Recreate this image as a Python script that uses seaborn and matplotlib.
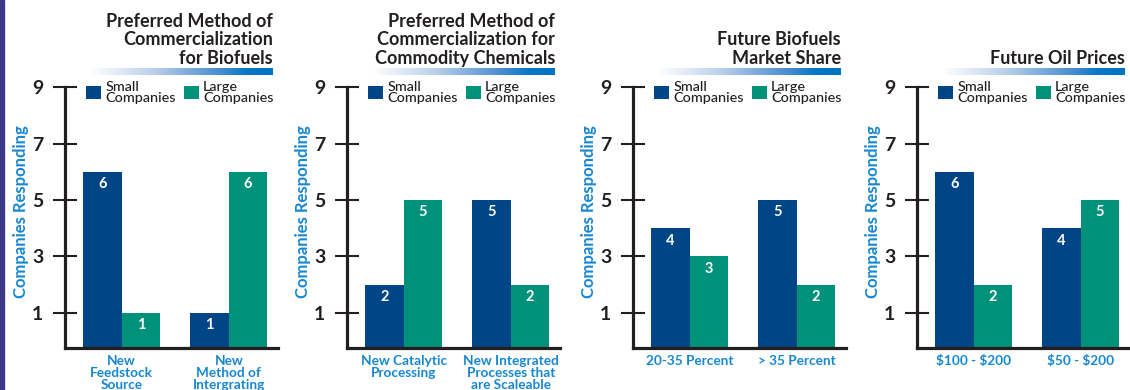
import numpy as np
import pandas as pd
import matplotlib
matplotlib.use("Agg")
import matplotlib.pyplot as plt
from matplotlib.colors import LinearSegmentedColormap
from matplotlib.patches import Rectangle
import seaborn as sns

# ---------------- data ----------------
titles = [
    "Preferred Method of\nCommercialization\nfor Biofuels",
    "Preferred Method of\nCommercialization for\nCommodity Chemicals",
    "Future Biofuels\nMarket Share",
    "Future Oil Prices",
]
categories = [
    ["New\nFeedstock\nSource", "New\nMethod of\nIntergrating"],
    ["New Catalytic\nProcessing", "New Integrated\nProcesses that\nare Scaleable"],
    ["20-35 Percent", "> 35 Percent"],
    ["$100 - $200", "$50 - $200"],
]
small_companies = [[6, 1], [2, 5], [4, 5], [6, 4]]
large_companies = [[1, 6], [5, 2], [3, 2], [2, 5]]
series_names = ["Small\nCompanies", "Large\nCompanies"]
y_ticks = [1, 3, 5, 7, 9]
y_label = "Companies Responding"

# ---------------- style ----------------
sns.set_style("white")
plt.rcParams["font.family"] = ["Lato", "DejaVu Sans"]
plt.rcParams["font.weight"] = "bold"
plt.rcParams["text.parse_math"] = False

BLUE = "#004586"
TEAL = "#00917a"
TEXT_BLUE = "#1787d0"
DARK = "#231f20"

W, H = 1130, 390
fig = plt.figure(figsize=(W / 100, H / 100), dpi=100)
fig.patch.set_facecolor("white")

axis_left_px = [65, 347, 633, 917]
axes_w_px = 213
base_px = 348          # y of x-axis (from top)
top_px = 87.3          # y of tick 9 (from top)
YMIN, YMAX = -0.25, 9

grad_cmap = LinearSegmentedColormap.from_list(
    "g", [(0, "#ffffff"), (0.35, "#b9cfea"), (0.7, "#4d8fd0"), (0.85, "#0a78c6"), (1, "#0073c3")])

for i in range(4):
    left = axis_left_px[i]
    ax = fig.add_axes([left / W, (H - base_px) / H, axes_w_px / W, (base_px - top_px) / H])
    df = pd.DataFrame({
        "category": categories[i] * 2,
        "company": [series_names[0]] * 2 + [series_names[1]] * 2,
        "count": small_companies[i] + large_companies[i],
    })
    sns.barplot(data=df, x="category", y="count", hue="company",
                palette=[BLUE, TEAL], width=0.72, saturation=1,
                errorbar=None, ax=ax, legend=True, linewidth=0)
    ax.set_ylim(YMIN, YMAX)
    ax.set_xlim(-0.53, 1.46)
    # bars rest on the axis floor
    for cont in ax.containers:
        for bar in cont:
            top = bar.get_y() + bar.get_height()
            bar.set_y(YMIN)
            bar.set_height(top - YMIN)
        ax.bar_label(cont, labels=[f"{v:g}" for v in cont.datavalues],
                     padding=-14, color="white", fontsize=10.5, fontweight="bold")

    # axes styling
    for s in ["top", "right"]:
        ax.spines[s].set_visible(False)
    for s in ["left", "bottom"]:
        ax.spines[s].set_linewidth(2.3)
        ax.spines[s].set_color(DARK)
    ax.set_yticks(y_ticks)
    ax.set_yticklabels([str(t) for t in y_ticks])
    ax.tick_params(axis="y", direction="inout", length=17, width=1.5, pad=7,
                   labelsize=14, colors=DARK, left=True)
    ax.set_xticks(range(len(categories[i])))
    ax.set_xticklabels(categories[i], fontsize=9.8, color=TEXT_BLUE,
                       fontweight="bold", linespacing=1.02, va="top")
    ax.tick_params(axis="x", length=0, pad=5)
    ax.set_xlabel("")
    ax.set_ylabel(y_label, color=TEXT_BLUE, fontsize=12, fontweight="bold")
    ax.yaxis.set_label_coords(-0.17, 0.525)

    # legend
    handles, labels = ax.get_legend_handles_labels()
    leg = ax.legend(handles, labels, loc="upper left", bbox_to_anchor=(0.1, 1.025),
                    ncol=2, frameon=False, prop={"size": 10.4, "weight": "medium"},
                    handlelength=1.05, handleheight=1.05, handletextpad=0.3,
                    columnspacing=0.5, borderpad=0, borderaxespad=0)
    for t in leg.get_texts():
        t.set_linespacing(0.9)
        t.set_color(DARK)

    # title and gradient rule
    right_px = left + 208
    fig.text(right_px / W, 1 - 67 / H, titles[i], ha="right", va="bottom",
             fontsize=13, fontweight="bold", color=DARK, linespacing=1.12,
             multialignment="right")
    gax = fig.add_axes([(left + 25) / W, 1 - 75 / H, (right_px - left - 25) / W, 7 / H])
    gax.imshow(np.linspace(0, 1, 256)[None, :], aspect="auto", cmap=grad_cmap)
    gax.set_axis_off()

# left border strip
fig.add_artist(Rectangle((0, 0), 3.5 / W, 1, transform=fig.transFigure,
                         color="#3b3a86", zorder=10))

fig.savefig("out.png", dpi=100)
